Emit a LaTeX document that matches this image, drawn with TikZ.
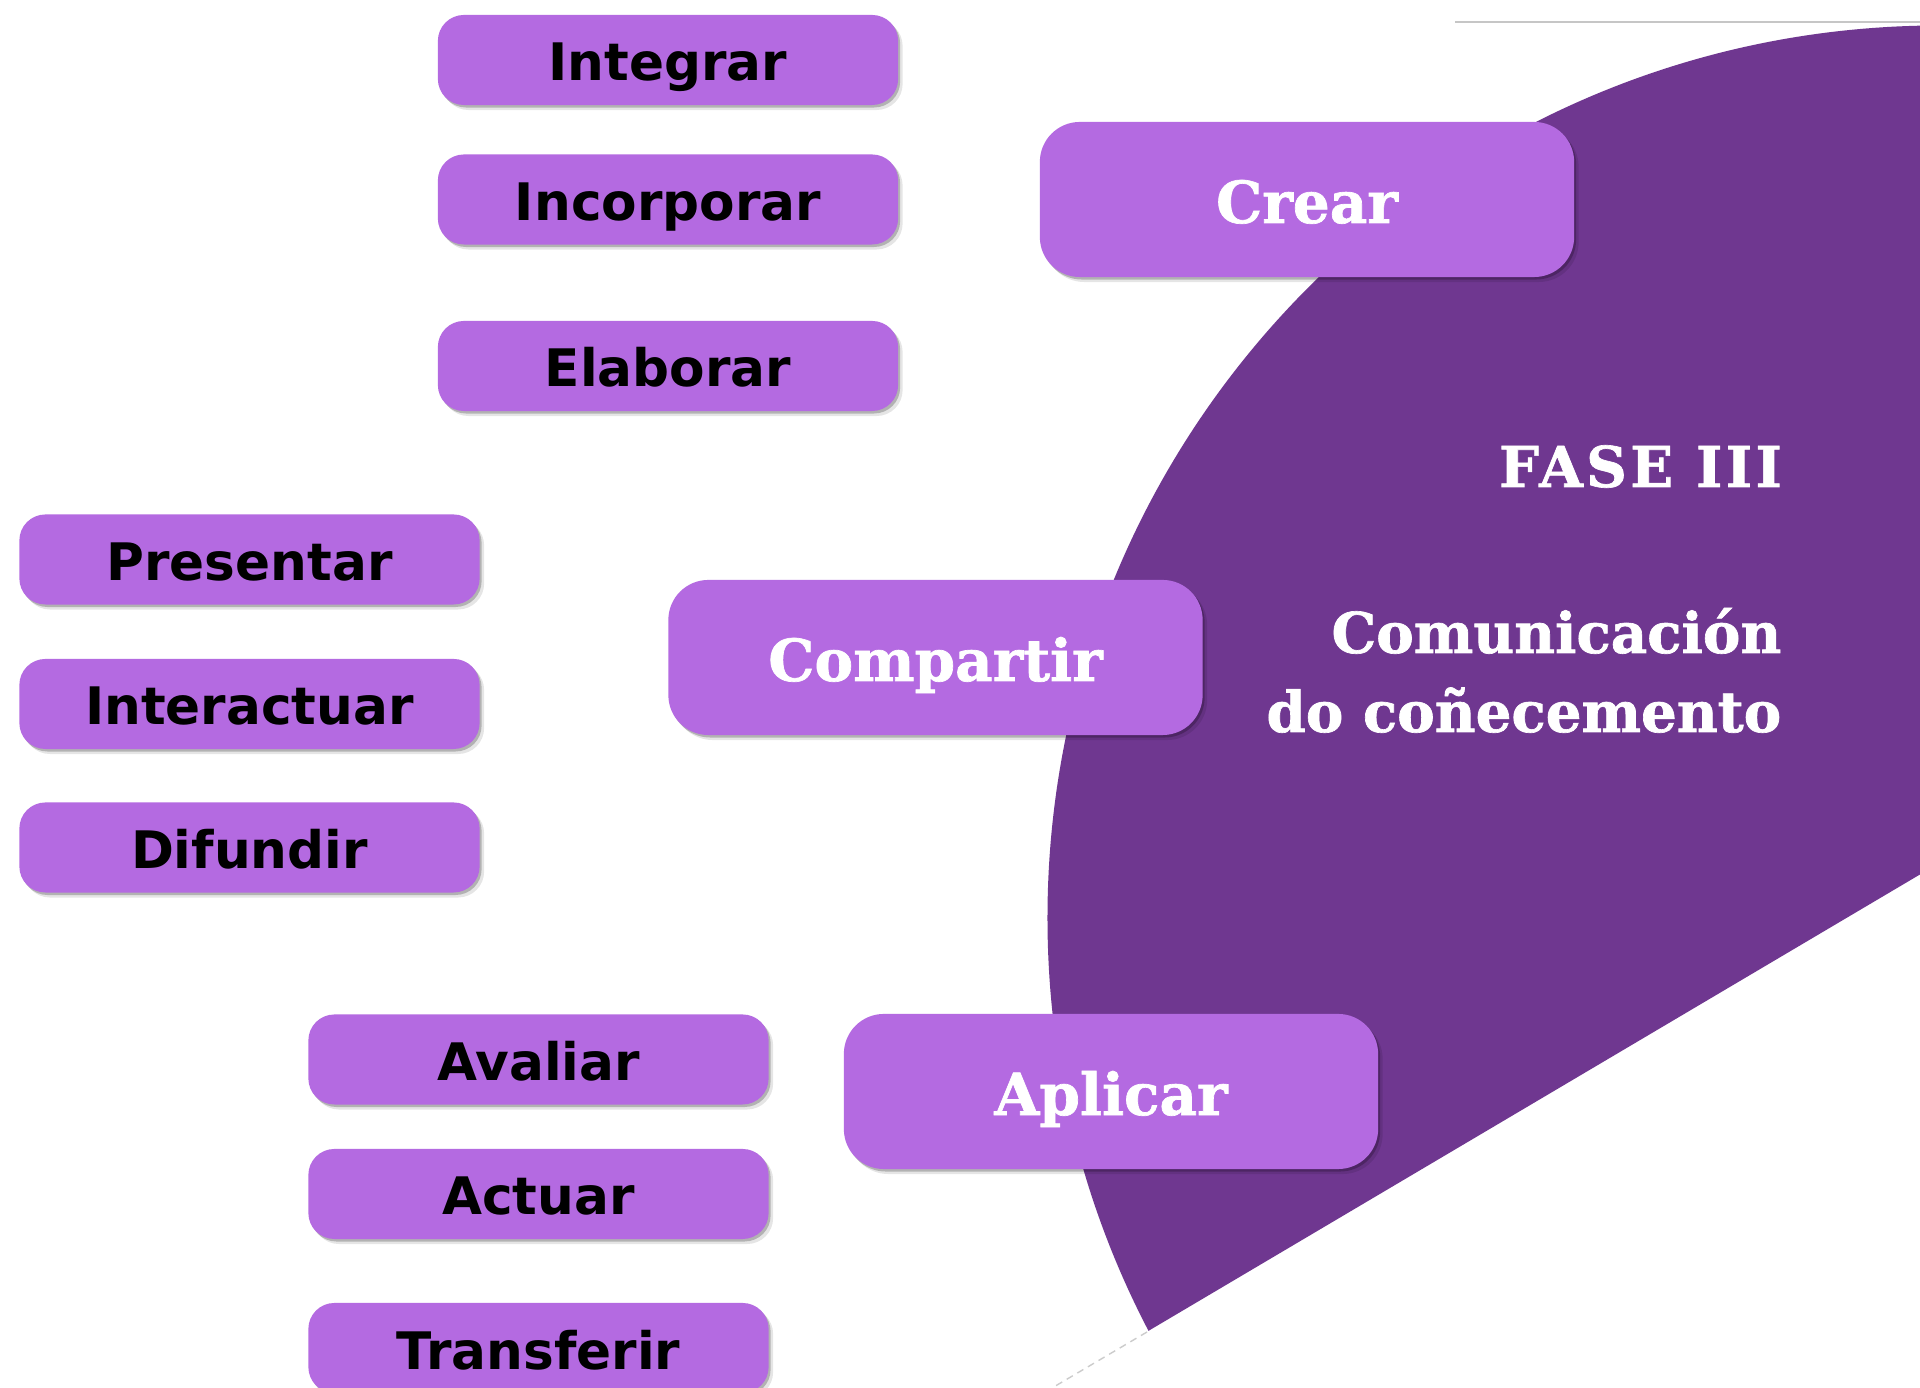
\documentclass[tikz,border=0pt]{standalone}
\usepackage{fontspec}
\newfontfamily\boxfont{DejaVu Sans}
\newfontfamily\headfont{DejaVu Serif}[BoldFeatures={FakeBold=1.2}]
\usetikzlibrary{shadows}
\definecolor{boxfill}{RGB}{180,106,225}
\definecolor{sectorfill}{RGB}{111,55,144}
\begin{document}
\begin{tikzpicture}[x=0.01cm,y=0.01cm,
  shadowed/.style={
    drop shadow={shadow xshift=0.02cm, shadow yshift=-0.025cm, opacity=0.22, fill=black},
    drop shadow={shadow xshift=0.045cm, shadow yshift=-0.05cm, opacity=0.10, fill=black}},
  smallbox/.style={rectangle, rounded corners=0.26cm, fill=boxfill, shadowed,
    minimum width=4.6cm, minimum height=0.9cm, inner sep=0pt,
    text height=0.42cm, text depth=0pt,
    font=\boxfont\bfseries\fontsize{14.7}{17}\selectfont, text=black},
  bigbox/.style={rectangle, rounded corners=0.4cm, fill=boxfill, shadowed,
    minimum width=5.34cm, minimum height=1.55cm, inner sep=0pt,
    text height=0.47cm, text depth=0pt,
    font=\headfont\bfseries\fontsize{16.5}{20}\selectfont, text=white},
  headtext/.style={inner sep=0pt, anchor=base east,
    font=\headfont\bfseries\fontsize{16}{20}\selectfont, text=white}]
\clip (0,0) rectangle (1920,1388);
\fill[white] (0,0) rectangle (1920,1388);
% sector
\coordinate (C) at (1940,470);
\coordinate (tip) at (1147,56);
\coordinate (lineend) at (1052,0);
\coordinate (topA) at (1455,1366);
\coordinate (topB) at (1920,1366);
\begin{scope}
  \clip (C) circle [radius=8.92cm];
  \fill[sectorfill] (800,-149) -- (2100,620) -- (2100,1500) -- (800,1500) -- cycle;
\end{scope}
\draw[gray!40, line width=0.4pt, dash pattern=on 2pt off 1.5pt] (tip) -- (lineend);
\draw[gray!45, line width=0.5pt] (topA) -- (topB);
% small boxes
\node[smallbox] (integrar) at (668,1328) {Integrar};
\node[smallbox] (incorporar) at (668,1188.5) {Incorporar};
\node[smallbox] (elaborar) at (668,1022) {Elaborar};
\node[smallbox] (presentar) at (249.5,828.5) {Presentar};
\node[smallbox] (interactuar) at (249.5,684) {Interactuar};
\node[smallbox] (difundir) at (249.5,540.5) {Difundir};
\node[smallbox] (avaliar) at (538.5,328.5) {Avaliar};
\node[smallbox] (actuar) at (538.5,194) {Actuar};
\node[smallbox] (transferir) at (538.5,40) {Transferir};
% big boxes
\node[bigbox] (crear) at (1307,1188.5) {Crear};
\node[bigbox] (compartir) at (935.5,730.5) {Compartir};
\node[bigbox] (aplicar) at (1111,296.5) {Aplicar};
% heading
\node[headtext] (fase) at (1779,901) {\addfontfeature{LetterSpace=6}FASE III\kern-1pt};
\node[headtext] (com1) at (1782,735) {Comunicación};
\node[headtext] (com2) at (1782,656) {do coñecemento};
\end{tikzpicture}
\end{document}
